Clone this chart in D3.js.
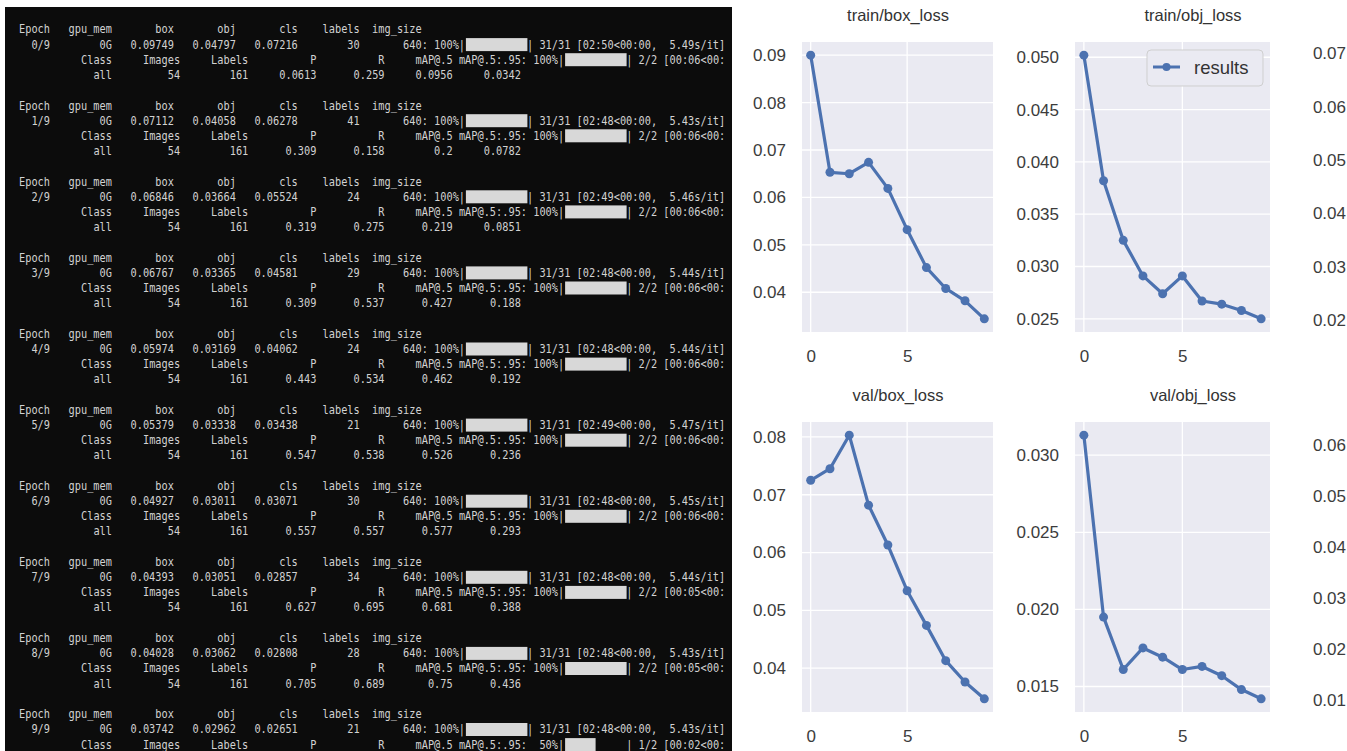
<!DOCTYPE html>
<html>
<head>
<meta charset="utf-8">
<script src="https://cdn.jsdelivr.net/npm/d3@7"></script>
<style>
  body { margin: 0; background: #fff; overflow: hidden; }
  svg { display: block; }
</style>
</head>
<body>
<svg id="chart" width="1347" height="751"></svg>
<script>
// ---------------- terminal log (left half)
const epochNames   = ['0/9', '1/9', '2/9', '3/9', '4/9', '5/9', '6/9', '7/9', '8/9', '9/9']
const gpuMem       = ['0G', '0G', '0G', '0G', '0G', '0G', '0G', '0G', '0G', '0G']
const boxLoss      = [0.09749, 0.07112, 0.06846, 0.06767, 0.05974, 0.05379, 0.04927, 0.04393, 0.04028, 0.03742]
const objLoss      = [0.04797, 0.04058, 0.03664, 0.03365, 0.03169, 0.03338, 0.03011, 0.03051, 0.03062, 0.02962]
const clsLoss      = [0.07216, 0.06278, 0.05524, 0.04581, 0.04062, 0.03438, 0.03071, 0.02857, 0.02808, 0.02651]
const labelCounts  = [30, 41, 24, 29, 24, 21, 30, 34, 28, 21]
const imgSize      = 640
const trainBatches = 31
const trainElapsed = ['02:50', '02:48', '02:49', '02:48', '02:48', '02:49', '02:48', '02:48', '02:48', '02:48']
const trainRate    = ['5.49', '5.43', '5.46', '5.44', '5.44', '5.47', '5.45', '5.44', '5.43', '5.43']
const valTotal     = 2
const valDone      = [2, 2, 2, 2, 2, 2, 2, 2, 2, 1]
const valElapsed   = ['00:06', '00:06', '00:06', '00:06', '00:06', '00:06', '00:06', '00:05', '00:05', '00:02']
const valImages    = 54
const valLabels    = 161
const precision    = [0.0613, 0.309, 0.319, 0.309, 0.443, 0.547, 0.557, 0.627, 0.705]
const recall       = [0.259, 0.158, 0.275, 0.537, 0.534, 0.538, 0.557, 0.695, 0.689]
const map50        = [0.0956, 0.2, 0.219, 0.427, 0.462, 0.526, 0.577, 0.681, 0.75]
const map5095      = [0.0342, 0.0782, 0.0851, 0.188, 0.192, 0.236, 0.293, 0.388, 0.436]

// ---------------- results plots (right half)
const epochIdx     = [0, 1, 2, 3, 4, 5, 6, 7, 8, 9]
const xTicks       = [0, 5]
const trainBoxLoss = [0.0900, 0.0653, 0.0650, 0.0674, 0.0619, 0.0532, 0.0452, 0.0408, 0.0382, 0.0344]
const trainObjLoss = [0.0502, 0.0382, 0.0325, 0.0291, 0.0274, 0.0291, 0.0267, 0.0264, 0.0258, 0.0250]
const valBoxLoss   = [0.0725, 0.0745, 0.0803, 0.0682, 0.0613, 0.0534, 0.0474, 0.0413, 0.0376, 0.0347]
const valObjLoss   = [0.0313, 0.0195, 0.0161, 0.0175, 0.0169, 0.0161, 0.0163, 0.0157, 0.0148, 0.0142]
// panels cut off by the right edge: only their y tick labels show
const trainClsRange = [0.01775, 0.0721]
const valClsRange   = [0.00765, 0.0645]

const svg = d3.select('#chart')
const W = 1347, H = 751

//----------------------------------------------------------- terminal
const term = svg.append('g')
term.append('rect').attr('x', 5).attr('y', 7).attr('width', 727).attr('height', H - 7).attr('fill', '#0c0c0c')

const cw = 6.2, tx0 = -12, fs = 11.5
const sx = cw / (fs * 0.602)   // squeeze the mono font to the terminal's cell width
const lineY = (b, l) => 29.5 + 76.1 * b + 15.1 * l
const pad = (s, n) => String(s).padStart(n)
const g4 = d3.format('.4~g'), g3 = d3.format('.3~g')
const head = ['Epoch', 'gpu_mem', 'box', 'obj', 'cls', 'labels', 'img_size'].map(s => pad(s, 10)).join('')
const valHead = pad('Class', 20) + ['Images', 'Labels', 'P', 'R', 'mAP@.5', 'mAP@.5:.95'].map(s => pad(s, 11)).join('')
const blank = ' '.repeat(10)

var lines = [], bars = []
epochNames.forEach((ep, b) => {
  lines.push({ b, l: 0, s: head })
  lines.push({ b, l: 1, s: pad(ep, 10) + pad(gpuMem[b], 10) +
    [boxLoss[b], objLoss[b], clsLoss[b], labelCounts[b], imgSize].map(v => pad(g4(v), 10)).join('') +
    ': 100%|' + blank + '| ' + trainBatches + '/' + trainBatches + ' [' + trainElapsed[b] + '<00:00,  ' + trainRate[b] + 's/it]' })
  bars.push({ b, l: 1, c: 77, f: 1 })
  const frac = valDone[b] / valTotal
  // the window cuts this line right after "<00:"
  lines.push({ b, l: 2, s: valHead + ': ' + pad(Math.round(frac * 100), 3) + '%|' + blank + '| ' +
    valDone[b] + '/' + valTotal + ' [' + valElapsed[b] + '<00:' })
  bars.push({ b, l: 2, c: 93, f: frac })
  if (b < precision.length)
    lines.push({ b, l: 3, s: pad('all', 20) + pad(valImages, 11) + pad(valLabels, 11) +
      [precision[b], recall[b], map50[b], map5095[b]].map(v => pad(g3(v), 11)).join('') })
})
lines.forEach(d => {
  const lead = d.s.length - d.s.trimStart().length
  d.x = tx0 + lead * cw
  d.t = d.s.trimStart()
})

term.selectAll('rect.bar').data(bars).join('rect').attr('class', 'bar')
  .attr('x', d => tx0 + d.c * cw + 0.5).attr('y', d => lineY(d.b, d.l) - 6.5)
  .attr('width', d => 10 * cw * d.f - 0.5).attr('height', 13).attr('fill', '#d8d8d8')

term.selectAll('text.ln').data(lines).join('text').attr('class', 'ln')
  .attr('transform', d => `translate(${d.x},${lineY(d.b, d.l) + 3.9}) scale(${sx},1)`)
  .attr('xml:space', 'preserve').style('white-space', 'pre')
  .attr('font-family', 'DejaVu Sans Mono, monospace').attr('font-size', fs)
  .attr('fill', '#d2d2d2').text(d => d.t)

//----------------------------------------------------------- seaborn-style plots
const blue = '#4C72B0', face = '#EAEAF2', ink = '#333', tickInk = '#3c3c3c'
const font = 'Liberation Sans, Arial, sans-serif'
const withMargin = ext => { const r = ext[1] - ext[0]; return [ext[0] - 0.05 * r, ext[1] + 0.05 * r] }

const panels = [
  { title: 'train/box_loss', values: trainBoxLoss, x0: 802, x1: 993, y0: 42, y1: 332, tx: 898, n: 6 },
  { title: 'train/obj_loss', values: trainObjLoss, x0: 1075, x1: 1270, y0: 42, y1: 332, tx: 1193, n: 6, legend: true },
  { title: 'val/box_loss', values: valBoxLoss, x0: 802, x1: 993, y0: 422, y1: 712, tx: 898, n: 6 },
  { title: 'val/obj_loss', values: valObjLoss, x0: 1075, x1: 1270, y0: 422, y1: 712, tx: 1193, n: 5 }
]

function yAxisLabels(g, y, n) {
  const ticks = y.ticks(n)
  const dom = y.domain()
  const step = d3.tickStep(dom[0], dom[1], n)
  g.call(d3.axisLeft(y).tickValues(ticks).tickSize(0).tickPadding(16).tickFormat(d3.format('.' + d3.precisionFixed(step) + 'f')))
  g.select('.domain').remove()
  g.selectAll('text').attr('font-family', font).attr('font-size', 17).attr('fill', tickInk)
  return ticks
}

panels.forEach(p => {
  const g = svg.append('g')
  const x = d3.scaleLinear().domain(withMargin(d3.extent(epochIdx))).range([p.x0, p.x1])
  const y = d3.scaleLinear().domain(withMargin(d3.extent(p.values))).range([p.y1, p.y0])
  g.append('rect').attr('x', p.x0).attr('y', p.y0).attr('width', p.x1 - p.x0).attr('height', p.y1 - p.y0).attr('fill', face)

  const ya = g.append('g').attr('transform', `translate(${p.x0},0)`)
  const yt = yAxisLabels(ya, y, p.n)
  g.selectAll('.hgrid').data(yt).join('line').attr('class', 'hgrid')
    .attr('x1', p.x0).attr('x2', p.x1).attr('y1', d => y(d)).attr('y2', d => y(d))
    .attr('stroke', '#fff').attr('stroke-width', 1.3)
  g.selectAll('.vgrid').data(xTicks).join('line').attr('class', 'vgrid')
    .attr('x1', d => x(d)).attr('x2', d => x(d)).attr('y1', p.y0).attr('y2', p.y1)
    .attr('stroke', '#fff').attr('stroke-width', 1.3)

  const xa = g.append('g').attr('transform', `translate(0,${p.y1})`)
    .call(d3.axisBottom(x).tickValues(xTicks).tickSize(0).tickPadding(18).tickFormat(d3.format('d')))
  xa.select('.domain').remove()
  xa.selectAll('text').attr('font-family', font).attr('font-size', 17).attr('fill', tickInk)

  const pts = epochIdx.map((e, i) => [e, p.values[i]])
  g.append('path').datum(pts).attr('fill', 'none').attr('stroke', blue).attr('stroke-width', 3.2)
    .attr('stroke-linejoin', 'round')
    .attr('d', d3.line().x(d => x(d[0])).y(d => y(d[1])))
  g.selectAll('.dot').data(pts).join('circle').attr('class', 'dot')
    .attr('cx', d => x(d[0])).attr('cy', d => y(d[1])).attr('r', 4.5).attr('fill', blue)

  g.append('text').attr('x', p.tx).attr('y', p.y0 - 21).attr('text-anchor', 'middle')
    .attr('font-family', font).attr('font-size', 16.5).attr('fill', ink).text(p.title)

  if (p.legend) {
    const lg = g.append('g').attr('transform', `translate(${p.x1 - 123},${p.y0 + 8})`)
    lg.append('rect').attr('width', 116).attr('height', 36).attr('rx', 4)
      .attr('fill', face).attr('stroke', '#cfcfcf').attr('stroke-width', 1)
    lg.append('line').attr('x1', 6).attr('x2', 33).attr('y1', 17).attr('y2', 17).attr('stroke', blue).attr('stroke-width', 3)
    lg.append('circle').attr('cx', 19.5).attr('cy', 17).attr('r', 4).attr('fill', blue)
    lg.append('text').attr('x', 47).attr('y', 24).attr('font-family', font).attr('font-size', 18.5).attr('fill', ink).text('results')
  }
})

// cut-off panels at the right edge
;[{ range: trainClsRange, y0: 42, y1: 332 }, { range: valClsRange, y0: 422, y1: 712 }].forEach(p => {
  const y = d3.scaleLinear().domain(p.range).range([p.y1, p.y0])
  const ya = svg.append('g').attr('transform', `translate(${1346 + 16},0)`)
  yAxisLabels(ya, y, 6)
})
</script>
</body>
</html>
